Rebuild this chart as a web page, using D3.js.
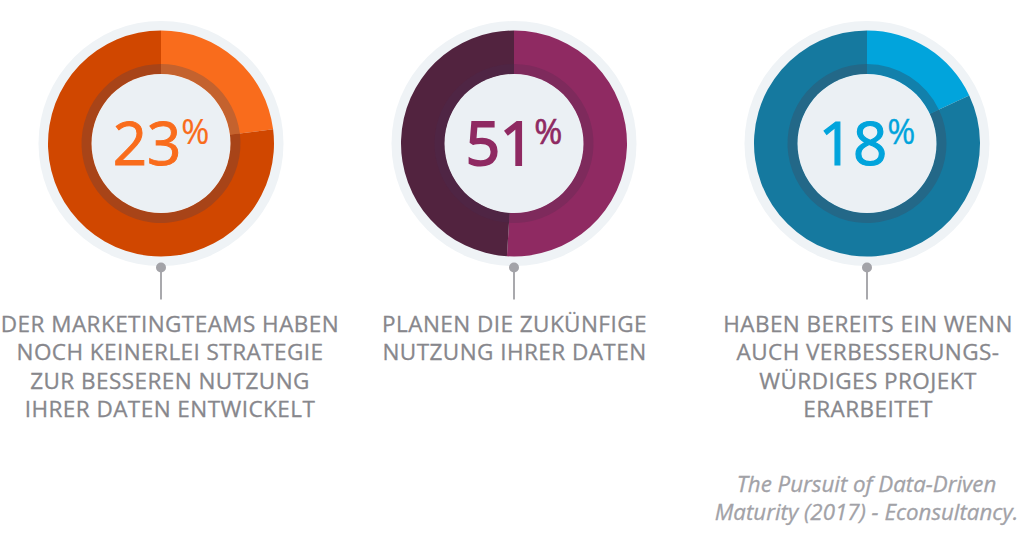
<!DOCTYPE html>
<html>
<head>
<meta charset="utf-8">
<script src="https://cdn.jsdelivr.net/npm/d3@7"></script>
<style>
  html, body { margin: 0; padding: 0; background: #fff; overflow: hidden; }
  text { font-family: "Open Sans", sans-serif; }
</style>
</head>
<body>
<div id="graph"></div>
<script>
const shares = [23, 51, 18];
const shareLabels = ["23", "51", "18"];
const lightColors = ["#f96c1c", "#8f2a62", "#01a4dc"];
const darkColors = ["#d04700", "#52233f", "#15799f"];
const lightRing = ["#c4622e", "#7e2a5c", "#1280ab"];
const darkRing = ["#a84418", "#4f2544", "#236888"];
const captions = [
    ["DER MARKETINGTEAMS HABEN", "NOCH KEINERLEI STRATEGIE", "ZUR BESSEREN NUTZUNG", "IHRER DATEN ENTWICKELT"],
    ["PLANEN DIE ZUKÜNFIGE", "NUTZUNG IHRER DATEN"],
    ["HABEN BEREITS EIN WENN", "AUCH VERBESSERUNGS-", "WÜRDIGES PROJEKT", "ERARBEITET"]
];
const sourceLines = ["The Pursuit of Data-Driven", "Maturity (2017) - Econsultancy."];

const width = 1024, height = 537;
const centersX = [161, 514, 867];
const captionX = [170, 514.5, 868];
const numberStroke = [1, 2, 1.2];
const percentStroke = [0.2, 0.6, 0.3];
const centerY = 143.5;
const lineHeight = 28.5;

let svg = d3.select("#graph")
    .append("svg")
    .attr("width", width)
    .attr("height", height)
    .style("display", "block");

let pie = d3.pie().sort(null);
let ringArc = d3.arc().innerRadius(69).outerRadius(113);
let innerArc = d3.arc().innerRadius(69.5).outerRadius(79.5);

let donuts = svg.selectAll("g.donut")
    .data(shares)
    .join("g")
    .attr("class", "donut")
    .attr("transform", (d, i) => `translate(${centersX[i]},${centerY})`);

donuts.append("circle").attr("r", 122.5).attr("fill", "#eff3f6");

donuts.each(function (share, i) {
    let g = d3.select(this);
    let slices = pie([share, 100 - share]);
    g.selectAll("path.ring")
        .data(slices)
        .join("path")
        .attr("class", "ring")
        .attr("d", ringArc)
        .attr("fill", (d, j) => j == 0 ? lightColors[i] : darkColors[i]);
    g.selectAll("path.inner")
        .data(slices)
        .join("path")
        .attr("class", "inner")
        .attr("d", innerArc)
        .attr("fill", (d, j) => j == 0 ? lightRing[i] : darkRing[i]);
    g.append("circle").attr("r", 69.5).attr("fill", "#ebf0f4");

    // big number + raised percent sign, stroke thickens the regular weight
    let label = g.append("text")
        .attr("text-anchor", "middle")
        .attr("y", 21)
        .attr("fill", lightColors[i])
        .attr("stroke", lightColors[i]);
    label.append("tspan")
        .attr("font-size", 60)
        .attr("stroke-width", numberStroke[i])
        .text(shareLabels[i]);
    label.append("tspan")
        .attr("font-size", 34)
        .attr("stroke-width", percentStroke[i])
        .attr("dy", -21)
        .text("%");

    // pin under the circle
    g.append("line")
        .attr("y1", 124)
        .attr("y2", 156)
        .attr("stroke", "#a9a9ad")
        .attr("stroke-width", 2);
    g.append("circle")
        .attr("cy", 124)
        .attr("r", 5)
        .attr("fill", "#a3a3a8");
});

svg.append("g")
    .selectAll("g")
    .data(captions)
    .join("g")
    .each(function (lines, i) {
        d3.select(this).selectAll("text")
            .data(lines)
            .join("text")
            .attr("text-anchor", "middle")
            .attr("x", captionX[i])
            .attr("y", (d, j) => 331.5 + j * lineHeight)
            .attr("font-size", 22.5)
            .attr("letter-spacing", 0.45)
            .attr("fill", "#87878c")
            .attr("stroke", "#87878c")
            .attr("stroke-width", 0.3)
            .text(d => d);
    });

svg.append("g")
    .selectAll("text")
    .data(sourceLines)
    .join("text")
    .attr("text-anchor", "middle")
    .attr("x", 866.5)
    .attr("y", (d, j) => 492 + j * 28)
    .attr("font-size", 22.3)
    .attr("font-style", "italic")
    .attr("fill", "#a2a2a7")
    .attr("stroke", "#a2a2a7")
    .attr("stroke-width", 0.3)
    .text(d => d);
</script>
</body>
</html>
